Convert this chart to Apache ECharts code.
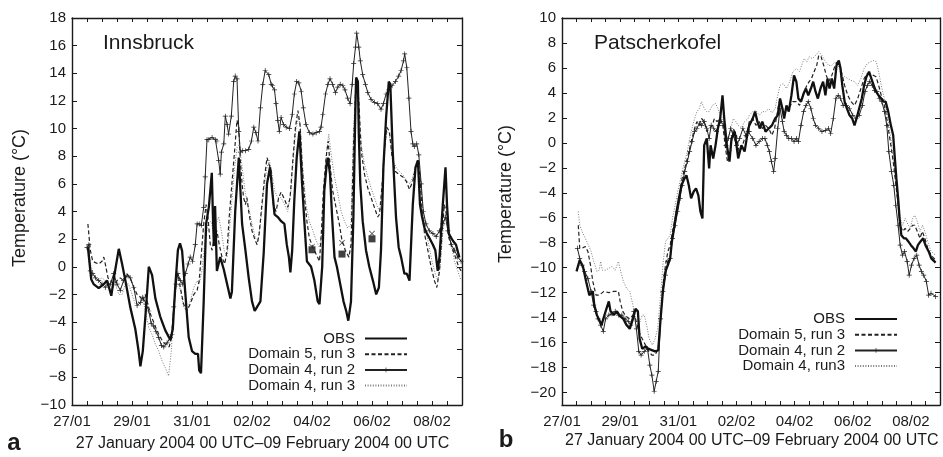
<!DOCTYPE html>
<html>
<head>
<meta charset="utf-8">
<script src="https://cdn.jsdelivr.net/npm/echarts@6/dist/echarts.min.js"></script>
<style>html,body{margin:0;padding:0;background:#fff}#c{width:943px;height:457px}</style>
</head>
<body>
<div id="c"></div>
<script>
// x = days after 27 January 2004 00 UTC, y = temperature (°C)
const xTickLabels = ['27/01','29/01','31/01','02/02','04/02','06/02','08/02'];
const patsYTicks = [-20,-18,-16,-14,-12,-10,-8,-6,-4,-2,0,2,4,6,8,10];

const innsObs = [[0.53,1.4],[0.64,-0.9],[0.72,-1.25],[0.89,-1.55],[1.06,-1.25],[1.17,-1.0],[1.31,-2.1],[1.42,-0.5],[1.56,1.3],[1.67,0.2],[1.78,-1.0],[1.94,-2.9],[2.11,-4.5],[2.22,-6.1],[2.28,-7.2],[2.36,-6.1],[2.47,-2.9],[2.56,0],[2.67,-0.6],[2.78,-2.3],[2.94,-3.6],[3.11,-4.6],[3.28,-5.3],[3.36,-4.5],[3.44,-1.5],[3.53,1.2],[3.6,1.7],[3.67,1.15],[3.78,-2.0],[3.89,-5.1],[4.0,-6.1],[4.11,-6.3],[4.2,-6.3],[4.24,-7.5],[4.3,-7.7],[4.39,-2.5],[4.47,3.1],[4.56,4.3],[4.61,5.5],[4.66,6.8],[4.7,3.5],[4.73,1.5],[4.77,4.4],[4.8,2.0],[4.83,-0.3],[4.94,0.7],[5.06,-0.2],[5.17,-1.25],[5.28,-2.3],[5.33,-1.8],[5.44,4.0],[5.56,7.9],[5.67,3.1],[5.78,1.2],[5.89,-0.8],[6.0,-2.5],[6.09,-3.2],[6.17,-2.9],[6.28,-2.5],[6.39,1.0],[6.5,6.0],[6.6,7.2],[6.75,3.8],[6.86,3.6],[6.97,3.3],[7.08,3.1],[7.16,1.6],[7.23,0.7],[7.28,-0.4],[7.34,1.2],[7.41,4.8],[7.49,7.9],[7.58,9.8],[7.67,6.0],[7.75,3.1],[7.83,0.4],[7.97,0],[8.08,-1.0],[8.19,-2.5],[8.25,-2.7],[8.34,0],[8.41,5.5],[8.49,7.4],[8.53,7.9],[8.6,6.7],[8.67,3.6],[8.75,0.7],[8.83,0],[8.94,-1.25],[9.05,-2.5],[9.14,-3.2],[9.21,-3.9],[9.3,-2.5],[9.38,3.6],[9.44,10.8],[9.47,13.7],[9.53,13.4],[9.56,9.6],[9.61,6.0],[9.69,3.3],[9.8,1.2],[9.91,0],[10.03,-1.0],[10.14,-2.0],[10.23,-1.5],[10.3,1.2],[10.38,7.2],[10.47,10.8],[10.56,13.4],[10.61,13.2],[10.69,8.4],[10.8,3.6],[10.89,1.4],[10.97,0.7],[11.08,-0.5],[11.16,-0.5],[11.25,-1.0],[11.36,4.5],[11.45,7.2],[11.53,7.7],[11.6,4.5],[11.67,3.6],[11.75,2.8],[11.83,2.4],[11.91,2.1],[12.03,1.6],[12.11,1.2],[12.19,-0.3],[12.25,0.7],[12.36,4.5],[12.45,7.2],[12.5,4.5],[12.56,2.4],[12.69,1.9],[12.8,1.6],[12.91,0.7]];

const innsD5r3 = [[0.53,3.1],[0.61,1.2],[0.69,0.4],[0.78,0.3],[0.89,0.2],[1.0,0.4],[1.06,0.7],[1.11,0.2],[1.2,-0.8],[1.28,-1.0],[1.39,-1.25],[1.5,-1.0],[1.61,-0.8],[1.72,-1.0],[1.83,-0.5],[1.94,-0.8],[2.06,-1.5],[2.17,-2.0],[2.28,-2.2],[2.36,-2.5],[2.44,-2.0],[2.53,-2.7],[2.61,-3.4],[2.72,-4.0],[2.83,-4.6],[2.94,-5.1],[3.06,-5.5],[3.17,-5.7],[3.24,-5.8],[3.31,-5.1],[3.39,-3.2],[3.47,-1.0],[3.53,-0.5],[3.61,-1.5],[3.72,-2.7],[3.83,-3.2],[3.94,-2.7],[4.06,-2.0],[4.17,-1.7],[4.24,-1.0],[4.31,0.9],[4.39,3.1],[4.47,4.5],[4.53,3.6],[4.61,1.6],[4.67,1.2],[4.76,2.4],[4.83,2.6],[4.91,1.6],[5.0,0.7],[5.09,0.2],[5.17,1.2],[5.24,3.6],[5.33,6.0],[5.42,8.4],[5.5,10.6],[5.56,10.1],[5.61,7.7],[5.67,6.0],[5.72,5.0],[5.78,4.5],[5.83,5.0],[5.89,4.0],[6.0,2.6],[6.11,1.9],[6.17,1.6],[6.24,2.4],[6.33,4.5],[6.42,6.5],[6.5,7.9],[6.56,7.9],[6.64,6.9],[6.71,4.5],[6.8,4.0],[6.89,5.0],[6.97,5.4],[7.08,4.9],[7.19,4.3],[7.27,5.0],[7.36,7.7],[7.45,10.1],[7.53,11.3],[7.6,10.3],[7.67,7.4],[7.75,5.0],[7.83,3.3],[7.91,2.1],[8.03,1.4],[8.14,0.9],[8.25,0.4],[8.31,2.4],[8.38,5.5],[8.47,7.9],[8.54,9.1],[8.6,7.4],[8.69,5.5],[8.8,4.3],[8.91,3.1],[9.0,1.9],[9.11,1.2],[9.23,0.7],[9.3,1.6],[9.38,8.4],[9.45,12.5],[9.49,13.7],[9.56,12.0],[9.64,8.4],[9.75,6.7],[9.86,5.7],[9.97,5.0],[10.08,4.3],[10.19,3.6],[10.25,3.8],[10.34,6.0],[10.41,8.4],[10.49,10.1],[10.58,9.8],[10.67,7.9],[10.78,6.9],[10.89,6.7],[11.03,6.5],[11.14,6.2],[11.25,5.6],[11.36,6.2],[11.45,7.2],[11.53,7.7],[11.6,6.5],[11.67,4.0],[11.75,2.4],[11.86,1.2],[11.97,0],[12.08,-1.0],[12.16,-1.5],[12.25,-0.3],[12.34,2.6],[12.41,4.5],[12.47,4.0],[12.56,2.1],[12.67,1.4],[12.78,0.7],[12.89,0],[12.97,-0.3]];

const innsD4r2 = [[0.5,1.4],[0.56,1.6],[0.61,-0.3],[0.69,-0.5],[0.78,-0.8],[0.89,-1.0],[1.0,-1.25],[1.11,-1.5],[1.2,-1.25],[1.28,-1.25],[1.39,-0.5],[1.5,-1.25],[1.61,-1.7],[1.72,-1.0],[1.83,-0.65],[1.94,-0.8],[2.06,-1.5],[2.17,-2.8],[2.28,-2.6],[2.36,-2.2],[2.47,-2.7],[2.56,-3.2],[2.64,-4.1],[2.72,-4.3],[2.8,-4.7],[2.89,-5.1],[2.98,-5.7],[3.06,-5.8],[3.17,-5.5],[3.28,-5.1],[3.33,-4.9],[3.39,-2.9],[3.47,-1.25],[3.53,-0.5],[3.61,-1.0],[3.69,-1.25],[3.78,-0.5],[3.87,0.2],[3.94,0.7],[4.02,0.4],[4.11,1.6],[4.17,3.1],[4.24,3.1],[4.31,3.0],[4.39,4.3],[4.44,6.5],[4.5,9.2],[4.56,9.2],[4.67,9.35],[4.78,9.2],[4.83,9.1],[4.89,7.7],[4.94,6.7],[4.98,8.3],[5.06,8.9],[5.11,10.9],[5.17,10.3],[5.22,9.6],[5.31,10.9],[5.39,13.4],[5.44,13.8],[5.5,13.6],[5.56,9.8],[5.61,8.3],[5.69,8.4],[5.78,8.4],[5.89,8.5],[5.98,9.1],[6.06,10.1],[6.13,9.7],[6.2,9.1],[6.28,11.5],[6.36,13.2],[6.44,14.2],[6.56,13.9],[6.64,13.2],[6.69,13.1],[6.75,12.8],[6.8,11.8],[6.86,10.6],[6.91,9.8],[6.97,10.8],[7.05,10.3],[7.14,10.1],[7.25,10.0],[7.34,11.0],[7.41,12.5],[7.49,13.4],[7.56,13.3],[7.64,12.7],[7.71,11.5],[7.8,10.3],[7.91,9.7],[8.03,9.6],[8.14,9.7],[8.25,9.8],[8.3,10.1],[8.36,11.0],[8.45,12.5],[8.53,13.2],[8.6,13.6],[8.69,13.2],[8.78,12.6],[8.86,13.0],[8.94,13.2],[9.03,13.1],[9.1,12.8],[9.19,12.2],[9.27,11.8],[9.34,13.2],[9.39,14.7],[9.45,15.9],[9.49,16.9],[9.56,15.9],[9.61,14.9],[9.69,13.9],[9.78,13.2],[9.86,12.6],[9.97,12.1],[10.08,11.9],[10.19,11.8],[10.3,11.4],[10.38,11.8],[10.47,12.5],[10.56,12.8],[10.67,13.1],[10.78,13.4],[10.89,13.8],[10.97,14.2],[11.05,14.9],[11.09,15.4],[11.16,14.4],[11.23,12.2],[11.3,9.8],[11.36,8.9],[11.41,8.7],[11.49,8.9],[11.56,8.1],[11.64,6.0],[11.71,4.0],[11.8,3.1],[11.91,2.6],[12.03,2.4],[12.14,2.2],[12.25,2.6],[12.36,3.1],[12.45,3.6],[12.53,2.6],[12.64,1.6],[12.75,1.2],[12.86,0.7],[12.97,0.4]];

const innsD4r3 = [[0.53,1.6],[0.61,0.2],[0.72,-0.5],[0.83,-1.0],[1.0,-0.8],[1.11,-1.0],[1.22,-1.5],[1.33,-1.7],[1.44,-1.25],[1.56,-2.0],[1.67,-2.0],[1.78,-1.25],[1.89,-1.25],[2.0,-2.0],[2.11,-2.7],[2.22,-2.5],[2.36,-2.2],[2.44,-3.2],[2.56,-4.4],[2.67,-4.9],[2.78,-5.6],[2.89,-6.1],[3.0,-6.8],[3.11,-7.3],[3.22,-7.9],[3.31,-6.1],[3.39,-2.9],[3.47,-1.5],[3.56,-1.25],[3.64,-2.0],[3.72,-2.9],[3.83,-3.2],[3.94,-2.5],[4.06,-1.5],[4.17,-1.0],[4.24,-1.25],[4.33,-0.3],[4.42,1.6],[4.53,3.1],[4.64,3.3],[4.72,2.4],[4.8,3.1],[4.89,3.6],[4.98,2.6],[5.07,1.2],[5.17,0.7],[5.24,2.4],[5.33,4.8],[5.42,7.2],[5.5,8.6],[5.58,8.9],[5.67,7.2],[5.78,5.3],[5.89,4.3],[6.0,3.1],[6.11,2.1],[6.2,1.9],[6.28,3.1],[6.39,5.5],[6.5,7.2],[6.58,7.7],[6.67,6.7],[6.75,5.5],[6.86,5.0],[6.97,5.0],[7.08,4.5],[7.19,4.0],[7.3,5.5],[7.38,7.9],[7.47,10.1],[7.55,10.8],[7.61,10.1],[7.69,7.2],[7.8,4.5],[7.91,3.3],[8.03,2.6],[8.14,1.9],[8.25,1.4],[8.34,2.6],[8.41,6.0],[8.49,8.4],[8.56,9.6],[8.64,8.1],[8.75,6.5],[8.86,5.3],[8.97,4.0],[9.08,3.3],[9.19,2.8],[9.3,3.1],[9.38,9.6],[9.45,12.7],[9.49,13.4],[9.56,11.8],[9.64,8.9],[9.75,7.4],[9.86,6.5],[9.97,5.7],[10.08,5.0],[10.19,4.3],[10.27,4.0],[10.36,6.5],[10.44,8.9],[10.5,9.8],[10.58,9.6],[10.67,7.9],[10.8,7.2],[10.91,6.9],[11.05,6.6],[11.16,6.2],[11.27,6.0],[11.36,6.5],[11.45,7.2],[11.54,7.4],[11.61,6.2],[11.69,4.3],[11.78,2.8],[11.89,1.6],[12.0,0.4],[12.11,-0.5],[12.19,-1.0],[12.27,0],[12.36,2.4],[12.45,4.0],[12.53,3.3],[12.64,1.6],[12.75,0.4],[12.86,-0.3],[12.97,-1.0]];

const innsSquares = [[8.0,1.23],[9.0,0.92],[10.0,2.02]];
const innsCrosses = [[8.0,1.45],[9.0,1.73],[10.0,2.4]];

const patsObs = [[0.5,-10.3],[0.61,-9.4],[0.72,-9.9],[0.83,-11.1],[0.94,-12.2],[1.06,-11.9],[1.11,-13.0],[1.2,-13.8],[1.28,-14.2],[1.36,-14.6],[1.42,-14.1],[1.5,-13.5],[1.61,-12.7],[1.67,-13.5],[1.78,-13.8],[1.89,-13.5],[2.0,-13.9],[2.11,-14.1],[2.22,-14.6],[2.33,-14.9],[2.44,-14.1],[2.53,-13.3],[2.61,-13.5],[2.67,-15.7],[2.76,-16.5],[2.87,-16.3],[2.98,-16.5],[3.09,-16.6],[3.2,-16.7],[3.31,-16.6],[3.39,-14.1],[3.47,-11.9],[3.56,-10.3],[3.64,-9.8],[3.72,-9.25],[3.78,-7.9],[3.87,-6.6],[3.94,-5.5],[4.02,-4.45],[4.11,-3.4],[4.2,-2.9],[4.28,-2.6],[4.36,-3.4],[4.44,-4.45],[4.53,-3.9],[4.61,-3.65],[4.69,-4.2],[4.76,-5.5],[4.83,-6.05],[4.89,-0.2],[4.98,0.35],[5.06,-2.05],[5.11,-0.2],[5.2,-1.25],[5.28,-0.2],[5.36,1.15],[5.44,1.95],[5.52,3.8],[5.58,1.95],[5.67,-0.2],[5.76,-1.5],[5.83,0.35],[5.94,0.9],[6.06,-1.25],[6.17,-0.2],[6.28,-0.7],[6.39,0.9],[6.44,1.4],[6.56,1.95],[6.64,2.5],[6.72,1.7],[6.8,1.15],[6.89,1.7],[7.0,0.9],[7.11,1.15],[7.22,1.4],[7.33,1.95],[7.42,2.2],[7.5,3.55],[7.58,2.75],[7.64,1.95],[7.72,3.0],[7.8,2.5],[7.89,3.8],[7.98,5.4],[8.06,4.9],[8.13,3.55],[8.22,3.3],[8.31,3.95],[8.39,4.35],[8.47,3.8],[8.56,4.35],[8.64,4.9],[8.72,4.1],[8.8,3.55],[8.89,4.35],[8.98,4.9],[9.06,3.8],[9.13,5.15],[9.2,4.35],[9.28,5.15],[9.36,4.35],[9.44,6.2],[9.52,6.6],[9.58,5.95],[9.64,4.6],[9.72,3.3],[9.8,2.75],[9.89,2.2],[9.98,1.95],[10.06,1.4],[10.13,1.95],[10.22,2.75],[10.31,3.55],[10.39,4.6],[10.47,5.3],[10.56,5.7],[10.64,5.15],[10.72,4.6],[10.8,4.1],[10.89,3.8],[10.98,3.55],[11.06,3.3],[11.13,3.3],[11.22,2.5],[11.31,1.4],[11.39,0.6],[11.44,-1.0],[11.5,-2.85],[11.56,-4.45],[11.61,-6.05],[11.67,-7.4],[11.76,-7.65],[11.83,-7.65],[11.91,-7.9],[12.0,-8.2],[12.09,-8.45],[12.17,-8.7],[12.24,-8.2],[12.33,-7.9],[12.42,-7.65],[12.5,-8.2],[12.61,-8.7],[12.7,-9.25],[12.85,-9.6]];

const patsD5r3 = [[0.56,-6.6],[0.61,-8.45],[0.69,-8.45],[0.8,-8.3],[0.89,-8.7],[0.98,-9.8],[1.06,-11.1],[1.17,-12.2],[1.28,-12.2],[1.44,-11.9],[1.61,-12.0],[1.78,-11.9],[1.94,-11.9],[2.0,-12.7],[2.09,-13.5],[2.2,-13.9],[2.33,-14.1],[2.44,-13.8],[2.53,-14.1],[2.64,-15.1],[2.76,-15.7],[2.87,-16.2],[2.98,-16.7],[3.09,-17.0],[3.2,-17.0],[3.31,-16.5],[3.39,-14.1],[3.47,-11.4],[3.56,-9.8],[3.64,-8.7],[3.72,-8.2],[3.8,-7.1],[3.89,-6.05],[3.98,-5.0],[4.06,-3.9],[4.13,-2.85],[4.22,-2.05],[4.31,-1.25],[4.39,-0.45],[4.47,0.35],[4.56,1.15],[4.64,1.7],[4.72,1.45],[4.8,1.95],[4.89,1.7],[4.98,0.9],[5.06,1.15],[5.17,1.4],[5.24,1.95],[5.33,1.7],[5.44,1.95],[5.53,1.4],[5.61,-0.2],[5.69,-1.5],[5.78,-1.0],[5.89,1.15],[6.0,0.6],[6.09,-0.7],[6.18,-0.45],[6.28,0.35],[6.4,1.15],[6.44,1.7],[6.56,1.95],[6.67,1.4],[6.78,1.7],[6.89,1.15],[7.0,1.4],[7.11,1.15],[7.22,0.6],[7.31,1.15],[7.39,2.2],[7.47,3.3],[7.56,3.0],[7.64,2.2],[7.72,2.75],[7.83,2.9],[7.94,3.3],[8.06,3.3],[8.17,3.0],[8.24,3.55],[8.33,4.1],[8.42,4.6],[8.5,4.9],[8.58,5.15],[8.67,5.7],[8.76,6.2],[8.83,7.0],[8.91,6.9],[9.0,6.2],[9.09,5.4],[9.17,4.9],[9.28,5.4],[9.39,6.2],[9.47,6.5],[9.56,6.2],[9.64,5.4],[9.72,4.6],[9.83,3.8],[9.94,3.3],[10.06,3.0],[10.17,3.55],[10.28,4.35],[10.39,5.15],[10.5,5.55],[10.61,5.4],[10.72,5.4],[10.8,5.3],[10.89,4.6],[10.98,3.8],[11.06,3.3],[11.13,2.5],[11.22,1.15],[11.31,-0.2],[11.39,-1.5],[11.47,-3.1],[11.56,-5.0],[11.63,-6.6],[11.72,-7.1],[11.8,-6.85],[11.89,-7.1],[11.98,-6.85],[12.06,-6.6],[12.13,-6.6],[12.22,-7.1],[12.31,-7.65],[12.39,-7.1],[12.48,-7.65],[12.58,-8.45],[12.69,-9.0],[12.85,-9.4]];

const patsD4r2 = [[0.53,-8.45],[0.61,-9.25],[0.69,-9.8],[0.78,-10.3],[0.89,-10.85],[1.0,-11.9],[1.09,-13.0],[1.17,-13.5],[1.24,-14.1],[1.33,-14.6],[1.42,-15.1],[1.5,-14.1],[1.61,-13.8],[1.72,-13.7],[1.83,-13.5],[1.94,-13.8],[2.06,-13.8],[2.17,-14.1],[2.28,-14.3],[2.36,-14.6],[2.47,-13.5],[2.56,-14.9],[2.64,-16.7],[2.72,-17.0],[2.83,-16.7],[2.94,-16.5],[3.02,-17.8],[3.09,-18.6],[3.17,-19.9],[3.24,-19.1],[3.31,-18.3],[3.39,-14.1],[3.47,-11.9],[3.56,-10.6],[3.64,-9.5],[3.72,-9.25],[3.8,-7.65],[3.89,-6.6],[3.98,-5.5],[4.06,-4.45],[4.13,-3.4],[4.22,-2.3],[4.31,-1.5],[4.39,-0.7],[4.47,0.1],[4.56,0.9],[4.64,1.15],[4.72,1.55],[4.8,1.4],[4.89,1.7],[4.98,1.15],[5.06,0.35],[5.13,1.4],[5.22,1.15],[5.31,0.9],[5.39,1.4],[5.47,1.7],[5.56,1.4],[5.64,-0.2],[5.72,0.35],[5.8,1.15],[5.89,0.6],[6.0,-0.2],[6.11,0.35],[6.22,1.15],[6.33,0.6],[6.4,0.9],[6.44,0.9],[6.56,0.35],[6.67,-0.2],[6.78,0.1],[6.89,0.35],[6.98,0.35],[7.06,-0.2],[7.13,-0.7],[7.2,-1.5],[7.28,-2.3],[7.33,-1.25],[7.42,1.15],[7.5,2.75],[7.58,1.7],[7.64,0.9],[7.72,0.6],[7.8,0.35],[7.89,0.35],[7.98,0.1],[8.06,0.35],[8.13,0.1],[8.22,1.4],[8.31,2.5],[8.39,3.0],[8.47,3.3],[8.56,2.75],[8.64,1.95],[8.72,1.4],[8.83,1.15],[8.94,0.9],[9.06,1.0],[9.17,1.15],[9.24,0.75],[9.33,1.95],[9.42,3.55],[9.5,3.8],[9.58,3.55],[9.67,3.0],[9.78,3.0],[9.89,2.75],[10.0,2.2],[10.11,1.95],[10.22,2.2],[10.33,3.0],[10.42,4.1],[10.5,4.6],[10.58,4.9],[10.67,4.6],[10.75,4.2],[10.83,4.1],[10.91,3.55],[11.0,3.3],[11.09,2.5],[11.17,1.4],[11.24,-0.7],[11.33,-2.3],[11.41,-3.4],[11.48,-5.0],[11.56,-6.6],[11.63,-8.2],[11.71,-9.0],[11.78,-8.7],[11.87,-9.5],[11.94,-10.6],[12.02,-9.8],[12.11,-9.25],[12.2,-9.0],[12.28,-9.8],[12.36,-10.3],[12.44,-10.6],[12.53,-11.1],[12.61,-12.2],[12.69,-12.05],[12.85,-12.3]];

const patsD4r3 = [[0.56,-5.5],[0.61,-6.6],[0.69,-7.1],[0.8,-7.65],[0.91,-8.2],[1.0,-8.7],[1.09,-9.5],[1.2,-10.3],[1.28,-10.2],[1.33,-9.5],[1.39,-10.2],[1.5,-10.2],[1.61,-10.05],[1.72,-9.9],[1.83,-10.2],[1.94,-9.5],[2.02,-10.3],[2.11,-11.1],[2.22,-11.65],[2.33,-11.9],[2.44,-13.0],[2.53,-14.1],[2.64,-14.6],[2.76,-13.8],[2.83,-13.8],[2.91,-14.6],[3.0,-15.7],[3.11,-16.2],[3.2,-15.7],[3.29,-14.9],[3.39,-12.2],[3.47,-9.8],[3.56,-7.9],[3.64,-7.65],[3.72,-7.4],[3.8,-6.05],[3.89,-5.0],[3.98,-3.9],[4.06,-3.1],[4.13,-2.3],[4.22,-1.5],[4.31,-0.7],[4.39,0.35],[4.47,1.15],[4.56,1.95],[4.64,2.5],[4.72,2.75],[4.8,3.3],[4.89,2.75],[4.98,2.5],[5.06,2.5],[5.17,3.0],[5.28,3.15],[5.36,2.75],[5.44,2.2],[5.53,1.95],[5.61,0.9],[5.69,0.35],[5.78,0.9],[5.89,1.95],[5.98,1.7],[6.06,1.4],[6.17,1.2],[6.28,1.7],[6.4,1.95],[6.44,2.2],[6.56,2.5],[6.67,2.6],[6.78,2.2],[6.89,2.5],[7.0,2.5],[7.11,2.75],[7.22,2.4],[7.33,2.75],[7.42,3.8],[7.5,4.6],[7.61,4.75],[7.72,4.35],[7.83,4.9],[7.94,5.7],[8.06,5.95],[8.17,5.7],[8.24,6.2],[8.33,6.75],[8.42,6.5],[8.5,6.9],[8.61,6.75],[8.72,7.0],[8.83,7.3],[8.94,7.0],[9.06,6.5],[9.17,6.2],[9.28,6.2],[9.39,6.5],[9.5,6.2],[9.61,5.4],[9.72,5.3],[9.83,5.15],[9.94,5.0],[10.06,4.9],[10.17,4.6],[10.28,5.15],[10.39,5.95],[10.5,6.35],[10.61,6.5],[10.72,6.6],[10.81,6.5],[10.89,5.7],[10.98,4.6],[11.06,3.8],[11.13,3.0],[11.22,1.7],[11.31,0.35],[11.39,-1.25],[11.47,-2.85],[11.56,-4.7],[11.63,-6.05],[11.72,-6.6],[11.8,-6.05],[11.89,-6.5],[11.98,-6.85],[12.06,-6.05],[12.13,-5.8],[12.22,-6.3],[12.31,-7.1],[12.4,-6.6],[12.48,-7.1],[12.58,-7.9],[12.69,-8.7],[12.85,-9.0]];

const FONT = 'Liberation Sans, Arial, Helvetica, sans-serif';
const INK = '#1a1a1a';
const PLUS = 'path://M4.3,0h1.4v10h-1.4z M0,4.3h10v1.4h-10z';
const CROSS = 'path://M0,1 L1,0 L5,4 L9,0 L10,1 L6,5 L10,9 L9,10 L5,6 L1,10 L0,9 L4,5 Z';

function numFmt(v) { return v < 0 ? '\u2212' + Math.abs(v) : String(v); }
function dayFmt(v) {
  const r = Math.round(v);
  if (Math.abs(v - r) > 1e-6 || r % 2 !== 0 || r > 12) return '';
  return xTickLabels[r / 2];
}

function xAx(grid, pos) {
  const main = pos === 'bottom';
  return {
    type: 'value', gridIndex: grid, position: pos, min: 0, max: 13, interval: 0.5,
    axisLine: { show: true, onZero: false, lineStyle: { color: INK, width: 1.4 } },
    axisTick: { show: true, inside: true, length: 4, lineStyle: { color: INK, width: 1 } },
    axisLabel: { show: main, formatter: dayFmt, margin: 9, color: INK, fontSize: 15, fontFamily: FONT, showMinLabel: true, showMaxLabel: true },
    splitLine: { show: false }
  };
}
function yAxInns(pos) {
  const main = pos === 'left';
  return {
    type: 'value', gridIndex: 0, position: pos, min: -10, max: 18, interval: 2,
    axisLine: { show: true, onZero: false, lineStyle: { color: INK, width: 1.4 } },
    axisTick: { show: true, inside: true, length: 5, lineStyle: { color: INK, width: 1 } },
    axisLabel: { show: main, formatter: numFmt, margin: 6, color: INK, fontSize: 15, fontFamily: FONT },
    splitLine: { show: false }
  };
}
function yAxPats(pos) {
  const main = pos === 'left';
  return {
    type: 'value', gridIndex: 1, position: pos, min: -21, max: 10,
    axisLine: { show: true, onZero: false, lineStyle: { color: INK, width: 1.4 } },
    axisTick: { show: true, inside: true, length: 5, customValues: patsYTicks, lineStyle: { color: INK, width: 1 } },
    axisLabel: { show: main, customValues: patsYTicks, formatter: numFmt, margin: 6, color: INK, fontSize: 15, fontFamily: FONT },
    splitLine: { show: false }
  };
}

function lineSeries(name, data, xi, yi, kind) {
  const s = { name: name, type: 'line', data: data, xAxisIndex: xi, yAxisIndex: yi, animation: false, silent: true, clip: true };
  if (kind === 'obs') {
    Object.assign(s, { symbol: 'none', z: 5, lineStyle: { color: '#111', width: 2.3 }, itemStyle: { color: '#111' } });
  } else if (kind === 'dash') {
    Object.assign(s, { symbol: 'none', z: 3, lineStyle: { color: '#222', width: 1.2, type: [4, 2.5] }, itemStyle: { color: '#222' } });
  } else if (kind === 'plus') {
    Object.assign(s, { symbol: PLUS, symbolSize: 5, showSymbol: true, showAllSymbol: true, z: 4, lineStyle: { color: '#222', width: 1 }, itemStyle: { color: '#222' } });
  } else {
    Object.assign(s, { symbol: 'none', z: 2, lineStyle: { color: '#7a7a7a', width: 1, type: [1, 1.6] }, itemStyle: { color: '#7a7a7a' } });
  }
  return s;
}

function txt(x, y, text, font, align, rot) {
  return { type: 'text', x: x, y: y, rotation: rot || 0, silent: true,
    style: { text: text, font: font, fill: INK, textAlign: align, textVerticalAlign: 'middle', align: align, verticalAlign: 'middle' } };
}

function legendItems(names) {
  // the plus-marked run keeps its symbol, the other entries show only the line
  return names.map(function (n) {
    return n === 'Domain 4, run 2' ? { name: n } : { name: n, itemStyle: { opacity: 0 } };
  });
}

const legendCommon = {
  orient: 'vertical', align: 'right', itemWidth: 42, itemHeight: 6, itemGap: 0.7,
  selectedMode: false, inactiveColor: INK,
  textStyle: { color: INK, fontSize: 15, fontFamily: FONT, lineHeight: 15, padding: [0, 5, 0, 0] }
};

const chart = echarts.init(document.getElementById('c'), null, { renderer: 'canvas' });
chart.setOption({
  animation: false,
  backgroundColor: '#fff',
  grid: [
    { left: 72, top: 18, width: 390, height: 387 },
    { left: 562, top: 18, width: 390, height: 387 }
  ],
  xAxis: [xAx(0, 'bottom'), xAx(0, 'top'), xAx(1, 'bottom'), xAx(1, 'top')],
  yAxis: [yAxInns('left'), yAxInns('right'), yAxPats('left'), yAxPats('right')],
  legend: [
    Object.assign({}, legendCommon, { right: 530, top: 326, data: legendItems(['OBS', 'Domain 5, run 3', 'Domain 4, run 2', 'Domain 4, run 3']) }),
    Object.assign({}, legendCommon, { right: 40, top: 306.5, data: legendItems(['OBS', 'Domain 5, run 3', 'Domain 4, run 2', 'Domain 4, run3']) })
  ],
  series: [
    lineSeries('Domain 4, run 3', innsD4r3, 0, 0, 'dot'),
    lineSeries('Domain 5, run 3', innsD5r3, 0, 0, 'dash'),
    lineSeries('Domain 4, run 2', innsD4r2, 0, 0, 'plus'),
    lineSeries('OBS', innsObs, 0, 0, 'obs'),
    { name: 'obs-square', type: 'scatter', data: innsSquares, xAxisIndex: 0, yAxisIndex: 0, symbol: 'rect', symbolSize: 7, itemStyle: { color: '#111' }, z: 6, silent: true },
    { name: 'obs-cross', type: 'scatter', data: innsCrosses, xAxisIndex: 0, yAxisIndex: 0, symbol: CROSS, symbolSize: 6, itemStyle: { color: '#333' }, z: 6, silent: true },
    lineSeries('Domain 4, run3', patsD4r3, 2, 2, 'dot'),
    lineSeries('Domain 5, run 3', patsD5r3, 2, 2, 'dash'),
    lineSeries('Domain 4, run 2', patsD4r2, 2, 2, 'plus'),
    lineSeries('OBS', patsObs, 2, 2, 'obs')
  ],
  graphic: [
    txt(103, 43, 'Innsbruck', '21px ' + FONT, 'left'),
    txt(594, 43, 'Patscherkofel', '21px ' + FONT, 'left'),
    txt(20, 198, 'Temperature (\u00B0C)', '18px ' + FONT, 'center', Math.PI / 2),
    txt(506, 194, 'Temperature (\u00B0C)', '18px ' + FONT, 'center', Math.PI / 2),
    txt(262.5, 444, '27 January 2004 00 UTC\u201309 February 2004 00 UTC', '16px ' + FONT, 'center'),
    txt(565, 441, '27 January 2004 00 UTC\u201309 February 2004 00 UTC', '16px ' + FONT, 'left'),
    txt(14, 443, 'a', 'bold 24px ' + FONT, 'center'),
    txt(506, 440, 'b', 'bold 24px ' + FONT, 'center')
  ]
});
</script>
</body>
</html>
